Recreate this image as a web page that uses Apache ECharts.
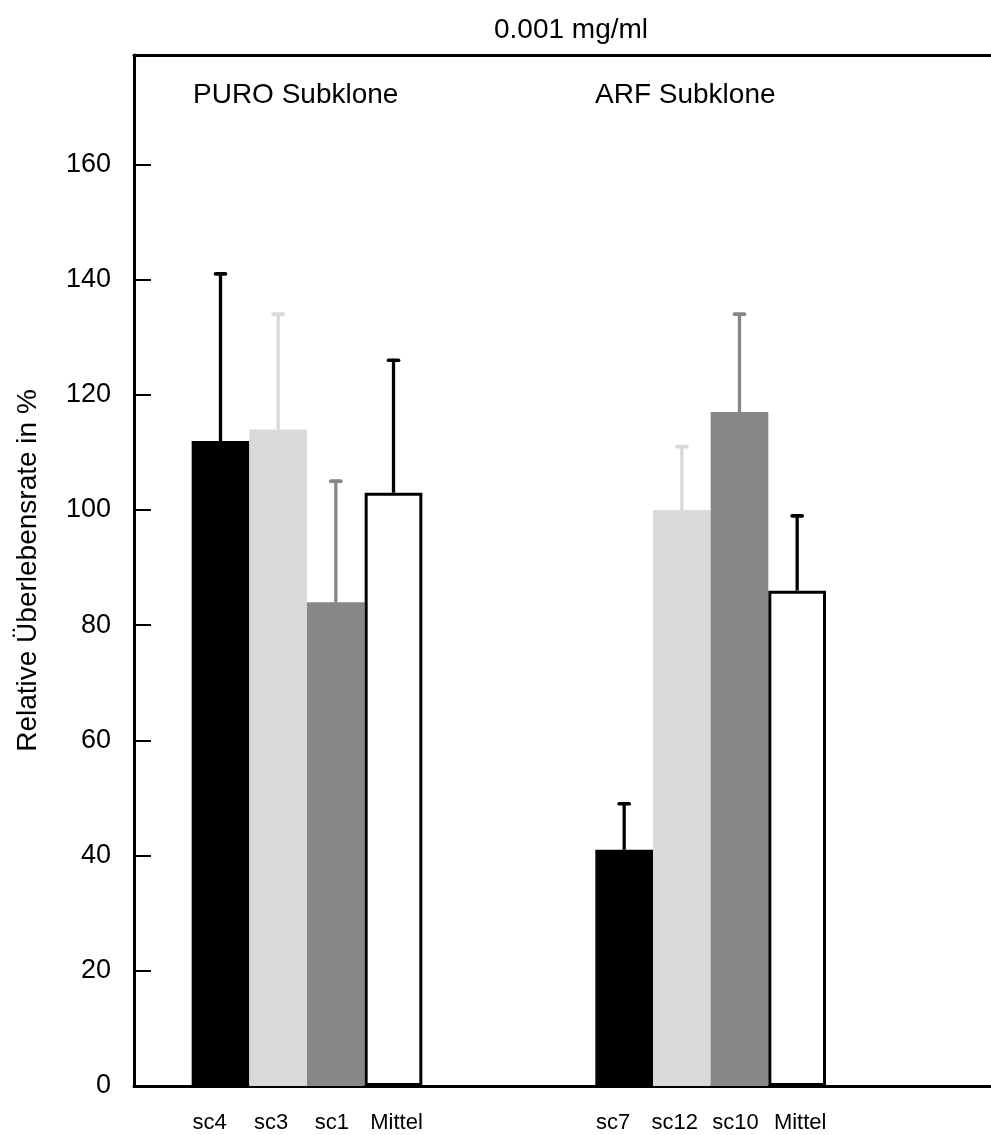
<!DOCTYPE html>
<html>
<head>
<meta charset="utf-8">
<script src="https://cdn.jsdelivr.net/npm/echarts@6/dist/echarts.min.js"></script>
<style>
html,body{margin:0;padding:0;background:#fff;}
#chart{width:991px;height:1135px;}
</style>
</head>
<body>
<div id="chart"></div>
<script>
// ---- data ----
const titleText = '0.001 mg/ml';
const yAxisName = 'Relative Überlebensrate in %';
const groupNames = ['PURO Subklone', 'ARF Subklone'];
const puroLabels = ['sc4', 'sc3', 'sc1', 'Mittel'];
const arfLabels = ['sc7', 'sc12', 'sc10', 'Mittel'];
const puroValues = [112, 114, 84, 103];
const puroErrors = [29, 20, 21, 23];
const arfValues = [41, 100, 117, 86];
const arfErrors = [8, 11, 17, 13];
const yTicks = [0, 20, 40, 60, 80, 100, 120, 140, 160];

// ---- styling ----
const fills = ['#000000', '#d9d9d9', '#878787', '#ffffff'];
const errColors = ['#000000', '#d9d9d9', '#878787', '#000000'];
const labelShift = [-11, -7, -4, 3];
const FONT = '"Liberation Sans", Arial, Helvetica, sans-serif';

// category layout: 1 empty slot, 4 PURO, 3 empty, 4 ARF, 3 empty
const categories = [];
const barData = [];
const errData = [];
function pushEmpty(n) { for (let i = 0; i < n; i++) { categories.push(''); barData.push(null); } }
function pushGroup(labels, values, errors) {
  labels.forEach((lab, k) => {
    const idx = categories.length;
    categories.push(lab);
    barData.push({
      value: values[k],
      itemStyle: k === 3
        ? { color: '#ffffff', borderColor: '#000', borderWidth: 3 }
        : { color: fills[k], borderWidth: 0 }
    });
    errData.push([idx, values[k], errors[k], k]);
  });
}
pushEmpty(1);
pushGroup(puroLabels, puroValues, puroErrors);
pushEmpty(3);
pushGroup(arfLabels, arfValues, arfErrors);
pushEmpty(3);

const rich = {};
labelShift.forEach((s, k) => {
  rich['p' + k] = {
    fontSize: 22, fontFamily: FONT, color: '#000',
    padding: s < 0 ? [0, -2 * s, 0, 0] : [0, 0, 0, 2 * s]
  };
});
const posInGroup = {};
categories.forEach((c, i) => {
  if (c) {
    const k = (i >= 1 && i <= 4) ? i - 1 : i - 8;
    posInGroup[i] = k;
  }
});

const chart = echarts.init(document.getElementById('chart'), null, { renderer: 'canvas' });
const option = {
  backgroundColor: '#ffffff',
  animation: false,
  title: {
    text: titleText,
    left: 566, top: 11, textAlign: 'center',
    textStyle: { fontSize: 28, fontWeight: 'normal', color: '#000', fontFamily: FONT }
  },
  grid: {
    left: 134, top: 55, width: 865, bottom: 49,
    outerBoundsMode: 'none',
    containLabel: false,
    show: false
  },
  xAxis: [{
    type: 'category',
    data: categories,
    boundaryGap: true,
    axisLine: { show: true, lineStyle: { color: '#000', width: 3 } },
    axisTick: { show: false },
    axisLabel: {
      interval: 0, margin: 26, color: '#000', fontSize: 22, fontFamily: FONT,
      formatter: function (val, idx) {
        if (!val) return '';
        return '{p' + posInGroup[idx] + '|' + val + '}';
      },
      rich: rich
    },
    splitLine: { show: false }
  }, {
    type: 'category',
    data: categories,
    position: 'top',
    axisLine: { show: true, lineStyle: { color: '#000', width: 3 } },
    axisTick: { show: false },
    axisLabel: { show: false },
    splitLine: { show: false }
  }],
  yAxis: {
    type: 'value',
    min: 0, max: 179, interval: 20,
    name: yAxisName,
    nameLocation: 'middle',
    nameGap: 92,
    nameTextStyle: { fontSize: 28, color: '#000', fontFamily: FONT },
    axisLine: { show: true, lineStyle: { color: '#000', width: 3 } },
    axisTick: { show: true, inside: true, length: 17, lineStyle: { color: '#000', width: 2 }, customValues: yTicks },
    axisLabel: { color: '#000', fontSize: 27, fontFamily: FONT, margin: 23, customValues: yTicks },
    splitLine: { show: false }
  },
  graphic: [
    { type: 'text', left: 193, top: 81, style: { text: groupNames[0], fontSize: 28, fontFamily: FONT, fill: '#000' } },
    { type: 'text', left: 595, top: 81, style: { text: groupNames[1], fontSize: 28, fontFamily: FONT, fill: '#000' } }
  ],
  series: [
    {
      type: 'bar',
      data: barData,
      barWidth: '100%',
      barCategoryGap: '0%',
      z: 2
    },
    {
      type: 'custom',
      data: errData,
      encode: { x: 0, y: 1 },
      clip: false,
      z: 3,
      renderItem: function (params, api) {
        const x = api.value(0);
        const v = api.value(1);
        const e = api.value(2);
        const k = api.value(3);
        const base = api.coord([x, v]);
        const top = api.coord([x, v + e]);
        const col = errColors[k];
        return {
          type: 'group',
          children: [
            { type: 'line', shape: { x1: base[0], y1: base[1], x2: top[0], y2: top[1] },
              style: { stroke: col, lineWidth: 3.3 } },
            { type: 'line', shape: { x1: top[0] - 5, y1: top[1], x2: top[0] + 5, y2: top[1] },
              style: { stroke: col, lineWidth: 3.7, lineCap: 'round' } }
          ]
        };
      }
    }
  ]
};
chart.setOption(option);
</script>
</body>
</html>
